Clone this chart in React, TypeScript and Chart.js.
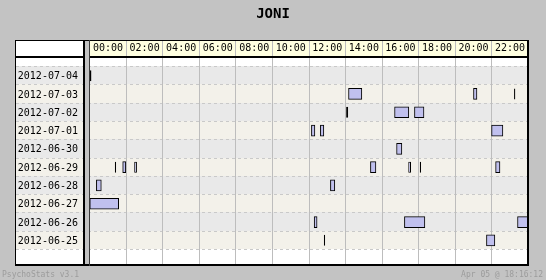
import React, { useEffect, useRef } from 'react';
import { Chart, registerables } from 'chart.js';

Chart.register(...registerables);

const TITLE = 'JONI';
const FOOTER_LEFT = 'PsychoStats v3.1';
const FOOTER_RIGHT = 'Apr 05 @ 18:16:12';

const DAYS = [
  '2012-07-04',
  '2012-07-03',
  '2012-07-02',
  '2012-07-01',
  '2012-06-30',
  '2012-06-29',
  '2012-06-28',
  '2012-06-27',
  '2012-06-26',
  '2012-06-25',
];

const HOUR_LABELS = [
  '00:00', '02:00', '04:00', '06:00', '08:00', '10:00',
  '12:00', '14:00', '16:00', '18:00', '20:00', '22:00',
];

const HOUR_GRID = [2, 4, 6, 8, 10, 12, 14, 16, 18, 20, 22];

// sessions per day: [start hour, end hour]
const SESSIONS_0704: [number, number][] = [[0, 0.09]];
const SESSIONS_0703: [number, number][] = [[14.16, 14.89], [21.0, 21.19], [23.22, 23.29]];
const SESSIONS_0702: [number, number][] = [[14.03, 14.14], [16.68, 17.46], [17.77, 18.29]];
const SESSIONS_0701: [number, number][] = [[12.13, 12.32], [12.62, 12.81], [21.99, 22.61]];
const SESSIONS_0630: [number, number][] = [[16.79, 17.08]];
const SESSIONS_0629: [number, number][] = [[1.37, 1.44], [1.8, 1.97], [2.43, 2.58], [15.36, 15.66], [17.43, 17.58], [18.06, 18.13], [22.21, 22.45]];
const SESSIONS_0628: [number, number][] = [[0.36, 0.63], [13.17, 13.41]];
const SESSIONS_0627: [number, number][] = [[0, 1.58]];
const SESSIONS_0626: [number, number][] = [[12.28, 12.44], [17.22, 18.34], [23.41, 24]];
const SESSIONS_0625: [number, number][] = [[12.81, 12.88], [21.71, 22.17]];

const SESSIONS = [
  SESSIONS_0704, SESSIONS_0703, SESSIONS_0702, SESSIONS_0701, SESSIONS_0630,
  SESSIONS_0629, SESSIONS_0628, SESSIONS_0627, SESSIONS_0626, SESSIONS_0625,
];

const MONO = '"DejaVu Sans Mono", monospace';

export default function App() {
  const ref = useRef<HTMLCanvasElement>(null);

  useEffect(() => {
    document.body.style.margin = '0';
    const canvas = ref.current;
    if (!canvas) return;

    const data = SESSIONS.flatMap((list, i) =>
      list.map(([s, e]) => ({ x: [s, e], y: DAYS[i] }))
    );

    const BOX_L = 15, BOX_T = 40, BOX_R = 529, BOX_B = 266;

    const frame = {
      id: 'frame',
      beforeDraw(chart: any) {
        const ctx = chart.ctx as CanvasRenderingContext2D;
        const area = chart.chartArea;
        const xs = chart.scales.x;
        const ys = chart.scales.y;
        ctx.save();
        ctx.fillStyle = '#c3c3c3';
        ctx.fillRect(0, 0, chart.width, chart.height);
        ctx.fillStyle = '#ffffff';
        ctx.fillRect(BOX_L, BOX_T, BOX_R - BOX_L, BOX_B - BOX_T);
        // header
        ctx.fillStyle = '#ffffe0';
        ctx.fillRect(89, BOX_T, BOX_R - 89, 16);
        // stripes
        for (let i = 0; i < DAYS.length; i++) {
          const t = Math.floor(ys.getPixelForValue(i - 0.5));
          const b = Math.floor(ys.getPixelForValue(i + 0.5));
          ctx.fillStyle = i % 2 === 0 ? '#e9e9e9' : '#f3f1ea';
          ctx.fillRect(BOX_L, t, BOX_R - BOX_L, b - t);
        }
        // dashed row separators
        ctx.strokeStyle = '#c9c9c9';
        ctx.lineWidth = 1;
        ctx.setLineDash([3, 3]);
        for (let i = 0; i <= DAYS.length; i++) {
          const y = Math.floor(ys.getPixelForValue(i - 0.5)) + 0.5;
          ctx.beginPath();
          ctx.moveTo(BOX_L + 1, y);
          ctx.lineTo(area.right, y);
          ctx.stroke();
        }
        ctx.setLineDash([]);
        // vertical grid lines
        ctx.strokeStyle = '#bdbdbd';
        for (const h of HOUR_GRID) {
          const x = Math.floor(xs.getPixelForValue(h)) + 0.5;
          ctx.beginPath();
          ctx.moveTo(x, BOX_T);
          ctx.lineTo(x, BOX_B - 2);
          ctx.stroke();
        }
        ctx.restore();
      },
      afterDraw(chart: any) {
        const ctx = chart.ctx as CanvasRenderingContext2D;
        ctx.save();
        ctx.fillStyle = '#000000';
        // outer borders
        ctx.fillRect(BOX_L, BOX_T, BOX_R - BOX_L, 1);
        ctx.fillRect(BOX_L, BOX_T, 1, BOX_B - BOX_T);
        ctx.fillRect(BOX_R - 2, BOX_T, 2, BOX_B - BOX_T);
        ctx.fillRect(BOX_L, BOX_B - 2, BOX_R - BOX_L, 2);
        // header bottom line
        ctx.fillRect(BOX_L, 56, BOX_R - BOX_L, 2);
        // label column border
        ctx.fillRect(83, BOX_T, 2, BOX_B - BOX_T);
        ctx.fillStyle = '#c3c3c3';
        ctx.fillRect(85, BOX_T + 1, 4, BOX_B - BOX_T - 3);
        ctx.fillStyle = '#3a3a3a';
        ctx.fillRect(89, BOX_T, 1, BOX_B - BOX_T);
        // title
        ctx.fillStyle = '#000000';
        ctx.font = 'bold 14px ' + MONO;
        ctx.textAlign = 'center';
        ctx.textBaseline = 'alphabetic';
        ctx.fillText(TITLE, 273, 18);
        // footer
        ctx.fillStyle = '#9c9c9c';
        ctx.font = '8px ' + MONO;
        ctx.textAlign = 'left';
        ctx.fillText(FOOTER_LEFT, 2, 277);
        ctx.textAlign = 'right';
        ctx.fillText(FOOTER_RIGHT, 543, 277);
        ctx.restore();
      },
    };

    const chart = new Chart(canvas, {
      type: 'bar',
      data: {
        labels: DAYS,
        datasets: [
          {
            data: data as any,
            backgroundColor: '#c0c0ee',
            borderColor: '#000000',
            borderWidth: 1,
            borderSkipped: false,
            inflateAmount: (c: any) => {
              const r = c.raw && c.raw.x;
              return r && r[1] - r[0] < 0.15 ? 0 : 0.33;
            },
            barThickness: 11,
          } as any,
        ],
      },
      options: {
        indexAxis: 'y',
        animation: false,
        responsive: false,
        events: [],
        layout: { padding: { left: 17.8, right: 17.7, top: 40, bottom: 30.5 } },
        plugins: {
          legend: { display: false },
          tooltip: { enabled: false },
          title: { display: false },
        },
        scales: {
          x: { type: 'linear', min: 0, max: 24, display: false },
          xTop: {
            axis: 'x',
            type: 'category',
            labels: HOUR_LABELS,
            position: 'top',
            offset: true,
            grid: { display: false, drawTicks: false, tickLength: 0 },
            border: { display: false },
            ticks: {
              color: '#000000',
              font: { family: MONO, size: 10 },
              padding: 12,
              maxRotation: 0,
              autoSkip: false,
            },
            afterFit(s: any) {
              s.height = 26.5;
            },
          },
          y: {
            type: 'category',
            labels: DAYS,
            offset: true,
            grid: { display: false, drawTicks: false, tickLength: 0 },
            border: { display: false },
            ticks: {
              crossAlign: 'far',
              color: '#000000',
              font: { family: MONO, size: 10 },
              autoSkip: false,
              labelOffset: 1,
            },
            afterFit(s: any) {
              s.width = 72;
            },
          },
        } as any,
      },
      plugins: [frame],
    });

    return () => chart.destroy();
  }, []);

  return <canvas ref={ref} width={546} height={280} style={{ display: 'block' }} />;
}
